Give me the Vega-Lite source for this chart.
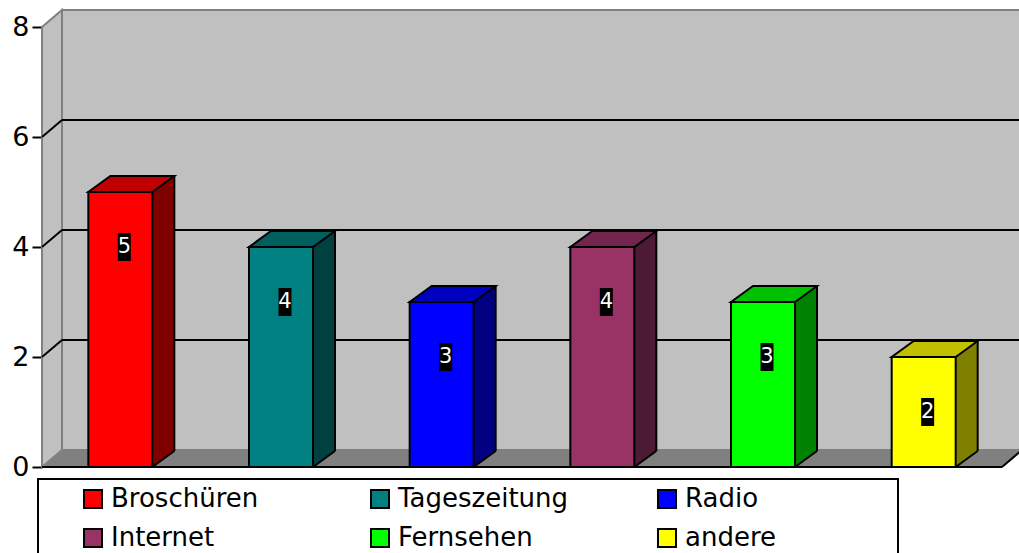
{
  "$schema": "https://vega.github.io/schema/vega-lite/v6.json",
  "width": 960,
  "height": 440,
  "autosize": {"type": "none"},
  "padding": {"left": 42, "top": 27, "right": 17, "bottom": 86},
  "background": "white",
  "config": {
    "view": {"stroke": null},
    "axisY": {
      "domainColor": "black", "domainWidth": 2,
      "tickColor": "black", "tickWidth": 2, "tickSize": 10,
      "labelFont": "DejaVu Sans", "labelFontSize": 27, "labelColor": "black",
      "labelPadding": 3, "grid": false
    }
  },
  "datasets": {
    "media": [
      {"medium": "Broschüren", "value": 5},
      {"medium": "Tageszeitung", "value": 4},
      {"medium": "Radio", "value": 3},
      {"medium": "Internet", "value": 4},
      {"medium": "Fernsehen", "value": 3},
      {"medium": "andere", "value": 2}
    ]
  },
  "layer": [
    {
      "data": {"values": [{}]},
      "layer": [
        {
          "mark": {"type": "rect", "fill": "#C0C0C0", "stroke": "#808080", "strokeWidth": 2, "xOffset": 20, "x2Offset": 40, "yOffset": -17, "y2Offset": -17},
          "encoding": {
            "x": {"datum": 0, "type": "quantitative", "scale": {"domain": [0, 1]}, "axis": null},
            "x2": {"datum": 1},
            "y": {"datum": 8, "type": "quantitative", "scale": {"domain": [0, 8], "nice": false}, "title": null, "axis": {"values": [0, 2, 4, 6, 8]}},
            "y2": {"datum": 0}
          }
        },
        {
          "mark": {"type": "point", "shape": "M0,0 L20,-17 L980,-17 L960,0 Z", "size": 4, "filled": true, "fill": "#808080", "strokeWidth": 0, "opacity": 1},
          "encoding": {
            "x": {"datum": 0, "type": "quantitative", "scale": {"domain": [0, 1]}, "axis": null},
            "y": {"datum": 0, "type": "quantitative", "scale": {"domain": [0, 8], "nice": false}, "title": null, "axis": {"values": [0, 2, 4, 6, 8]}}
          }
        },
        {
          "mark": {"type": "point", "shape": "M0,0 L0,-440 L20,-457 L20,-17 Z", "size": 4, "filled": true, "fill": "#C0C0C0", "stroke": "#808080", "strokeWidth": 2, "opacity": 1},
          "encoding": {
            "x": {"datum": 0, "type": "quantitative", "scale": {"domain": [0, 1]}, "axis": null},
            "y": {"datum": 0, "type": "quantitative", "scale": {"domain": [0, 8], "nice": false}, "title": null, "axis": {"values": [0, 2, 4, 6, 8]}}
          }
        },
        {
          "mark": {"type": "rule", "color": "black", "strokeWidth": 2},
          "encoding": {
            "x": {"datum": 0, "type": "quantitative", "scale": {"domain": [0, 1]}, "axis": null},
            "x2": {"datum": 1},
            "y": {"datum": 0, "type": "quantitative", "scale": {"domain": [0, 8], "nice": false}, "title": null, "axis": {"values": [0, 2, 4, 6, 8]}}
          }
        },
        {
          "mark": {"type": "rule", "color": "black", "strokeWidth": 2, "x2Offset": 20, "y2Offset": -17},
          "encoding": {
            "x": {"datum": 1, "type": "quantitative", "scale": {"domain": [0, 1]}, "axis": null},
            "x2": {"datum": 1},
            "y": {"datum": 0, "type": "quantitative", "scale": {"domain": [0, 8], "nice": false}, "title": null, "axis": {"values": [0, 2, 4, 6, 8]}},
            "y2": {"datum": 0}
          }
        },
        {
          "mark": {"type": "rect", "fill": "white", "stroke": "black", "strokeWidth": 2, "xOffset": -4, "x2Offset": -104, "yOffset": 12, "y2Offset": 110},
          "encoding": {
            "x": {"datum": 0, "type": "quantitative", "scale": {"domain": [0, 1]}, "axis": null},
            "x2": {"datum": 1},
            "y": {"datum": 0, "type": "quantitative", "scale": {"domain": [0, 8], "nice": false}, "title": null, "axis": {"values": [0, 2, 4, 6, 8]}},
            "y2": {"datum": 0}
          }
        }
      ]
    },
    {
      "data": {"values": [{"g": 2}, {"g": 4}, {"g": 6}]},
      "layer": [
        {
          "mark": {"type": "rule", "color": "black", "strokeWidth": 2, "xOffset": 20, "x2Offset": 40, "yOffset": -17},
          "encoding": {
            "x": {"datum": 0, "type": "quantitative", "scale": {"domain": [0, 1]}, "axis": null},
            "x2": {"datum": 1},
            "y": {"field": "g", "type": "quantitative", "scale": {"domain": [0, 8], "nice": false}, "title": null, "axis": {"values": [0, 2, 4, 6, 8]}}
          }
        },
        {
          "mark": {"type": "rule", "color": "black", "strokeWidth": 2, "x2Offset": 20, "y2Offset": -17},
          "encoding": {
            "x": {"datum": 0, "type": "quantitative", "scale": {"domain": [0, 1]}, "axis": null},
            "x2": {"datum": 0},
            "y": {"field": "g", "type": "quantitative", "scale": {"domain": [0, 8], "nice": false}, "title": null, "axis": {"values": [0, 2, 4, 6, 8]}},
            "y2": {"field": "g"}
          }
        }
      ]
    },
    {
      "data": {"name": "media"},
      "resolve": {"scale": {"fill": "independent"}},
      "layer": [
        {
          "mark": {"type": "bar", "width": 22, "xOffset": 43, "yOffset": -16, "y2Offset": -16},
          "encoding": {
            "x": {"field": "medium", "type": "nominal", "sort": null, "scale": {"domain": ["Broschüren", "Tageszeitung", "Radio", "Internet", "Fernsehen", "andere"], "paddingInner": 0.025, "paddingOuter": 0}, "axis": null},
            "y": {"field": "value", "type": "quantitative", "scale": {"domain": [0, 8], "nice": false}, "title": null, "axis": {"values": [0, 2, 4, 6, 8]}},
            "y2": {"datum": 0},
            "fill": {"field": "medium", "type": "nominal", "sort": null, "scale": {"domain": ["Broschüren", "Tageszeitung", "Radio", "Internet", "Fernsehen", "andere"], "range": ["#800000", "#004040", "#000080", "#4D1A33", "#008000", "#808000"]}, "legend": null}
          }
        },
        {
          "mark": {"type": "point", "shape": "M32,0 L32,-17 L54,-17 L54,-16 Z", "size": 4, "filled": true, "strokeWidth": 0, "opacity": 1},
          "encoding": {
            "x": {"field": "medium", "type": "nominal", "sort": null, "scale": {"domain": ["Broschüren", "Tageszeitung", "Radio", "Internet", "Fernsehen", "andere"], "paddingInner": 0.025, "paddingOuter": 0}, "axis": null},
            "y": {"datum": 0, "type": "quantitative", "scale": {"domain": [0, 8], "nice": false}, "title": null, "axis": {"values": [0, 2, 4, 6, 8]}},
            "fill": {"field": "medium", "type": "nominal", "sort": null, "scale": {"domain": ["Broschüren", "Tageszeitung", "Radio", "Internet", "Fernsehen", "andere"], "range": ["#800000", "#004040", "#000080", "#4D1A33", "#008000", "#808000"]}, "legend": null}
          }
        },
        {
          "mark": {"type": "point", "shape": "M32,0 L54,-16", "size": 4, "filled": false, "stroke": "black", "strokeWidth": 2, "opacity": 1},
          "encoding": {
            "x": {"field": "medium", "type": "nominal", "sort": null, "scale": {"domain": ["Broschüren", "Tageszeitung", "Radio", "Internet", "Fernsehen", "andere"], "paddingInner": 0.025, "paddingOuter": 0}, "axis": null},
            "y": {"datum": 0, "type": "quantitative", "scale": {"domain": [0, 8], "nice": false}, "title": null, "axis": {"values": [0, 2, 4, 6, 8]}}
          }
        },
        {
          "mark": {"type": "rule", "color": "black", "strokeWidth": 2, "xOffset": 54, "yOffset": -16, "y2Offset": -16},
          "encoding": {
            "x": {"field": "medium", "type": "nominal", "sort": null, "scale": {"domain": ["Broschüren", "Tageszeitung", "Radio", "Internet", "Fernsehen", "andere"], "paddingInner": 0.025, "paddingOuter": 0}, "axis": null},
            "y": {"field": "value", "type": "quantitative", "scale": {"domain": [0, 8], "nice": false}, "title": null, "axis": {"values": [0, 2, 4, 6, 8]}},
            "y2": {"datum": 0}
          }
        },
        {
          "mark": {"type": "point", "shape": "M-32,0 L32,0 L54,-16 L-10,-16 Z", "size": 4, "filled": true, "stroke": "black", "strokeWidth": 2, "opacity": 1},
          "encoding": {
            "x": {"field": "medium", "type": "nominal", "sort": null, "scale": {"domain": ["Broschüren", "Tageszeitung", "Radio", "Internet", "Fernsehen", "andere"], "paddingInner": 0.025, "paddingOuter": 0}, "axis": null},
            "y": {"field": "value", "type": "quantitative", "scale": {"domain": [0, 8], "nice": false}, "title": null, "axis": {"values": [0, 2, 4, 6, 8]}},
            "fill": {"field": "medium", "type": "nominal", "sort": null, "scale": {"domain": ["Broschüren", "Tageszeitung", "Radio", "Internet", "Fernsehen", "andere"], "range": ["#C00000", "#006060", "#0000C0", "#73264D", "#00C000", "#C0C000"]}, "legend": null}
          }
        },
        {
          "mark": {"type": "bar", "width": 64, "stroke": "black", "strokeWidth": 2},
          "encoding": {
            "x": {"field": "medium", "type": "nominal", "sort": null, "scale": {"domain": ["Broschüren", "Tageszeitung", "Radio", "Internet", "Fernsehen", "andere"], "paddingInner": 0.025, "paddingOuter": 0}, "axis": null},
            "y": {"field": "value", "type": "quantitative", "scale": {"domain": [0, 8], "nice": false}, "title": null, "axis": {"values": [0, 2, 4, 6, 8]}},
            "y2": {"datum": 0},
            "fill": {
              "field": "medium", "type": "nominal", "sort": null,
              "scale": {"domain": ["Broschüren", "Tageszeitung", "Radio", "Internet", "Fernsehen", "andere"], "range": ["#FF0000", "#008080", "#0000FF", "#993366", "#00FF00", "#FFFF00"]},
              "legend": {
                "orient": "none", "legendX": -4, "legendY": 452,
                "columns": 3, "direction": "horizontal", "gridAlign": "all",
                "title": " ", "titleOrient": "left", "titleFontSize": 1, "titlePadding": 35,
                "symbolType": "square", "symbolSize": 324, "symbolStrokeColor": "black", "symbolStrokeWidth": 2, "symbolOpacity": 1,
                "labelFont": "DejaVu Sans", "labelFontSize": 26, "labelColor": "black", "labelOffset": 5, "labelLimit": 400,
                "rowPadding": 13, "columnPadding": 85, "padding": 7
              }
            }
          }
        },
        {
          "mark": {"type": "point", "shape": "M-2.5,41 L10.5,41 L10.5,69 L-2.5,69 Z", "size": 4, "filled": true, "fill": "black", "strokeWidth": 0, "opacity": 1},
          "encoding": {
            "x": {"field": "medium", "type": "nominal", "sort": null, "scale": {"domain": ["Broschüren", "Tageszeitung", "Radio", "Internet", "Fernsehen", "andere"], "paddingInner": 0.025, "paddingOuter": 0}, "axis": null},
            "y": {"field": "value", "type": "quantitative", "scale": {"domain": [0, 8], "nice": false}, "title": null, "axis": {"values": [0, 2, 4, 6, 8]}}
          }
        },
        {
          "mark": {"type": "text", "dx": 4, "dy": 55, "align": "center", "baseline": "middle", "font": "DejaVu Sans", "fontSize": 21, "color": "white"},
          "encoding": {
            "x": {"field": "medium", "type": "nominal", "sort": null, "scale": {"domain": ["Broschüren", "Tageszeitung", "Radio", "Internet", "Fernsehen", "andere"], "paddingInner": 0.025, "paddingOuter": 0}, "axis": null},
            "y": {"field": "value", "type": "quantitative", "scale": {"domain": [0, 8], "nice": false}, "title": null, "axis": {"values": [0, 2, 4, 6, 8]}},
            "text": {"field": "value", "type": "quantitative"}
          }
        }
      ]
    }
  ],
  "resolve": {"scale": {"x": "independent"}}
}
